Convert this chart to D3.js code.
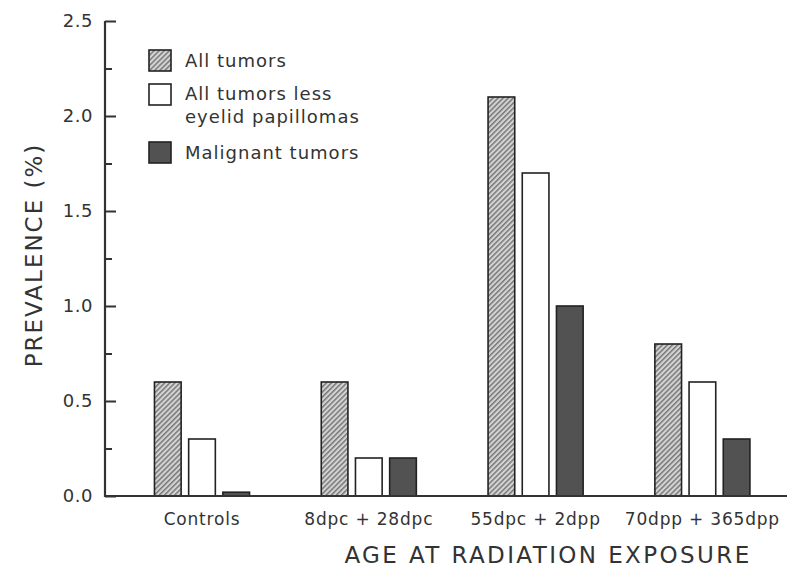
<!DOCTYPE html>
<html><head><meta charset="utf-8">
<script src="https://cdn.jsdelivr.net/npm/d3@7"></script>
<style>body{margin:0;background:#fff}svg{display:block}text{font-family:"DejaVu Sans",sans-serif;fill:#333}</style>
</head><body><svg id="c" width="805" height="567"></svg>
<script>
const categories = ["Controls", "8dpc + 28dpc", "55dpc + 2dpp", "70dpp + 365dpp"];
const seriesNames = ["All tumors", "All tumors less eyelid papillomas", "Malignant tumors"];
const allTumors = [0.6, 0.6, 2.1, 0.8];
const lessPapillomas = [0.3, 0.2, 1.7, 0.6];
const malignant = [0.02, 0.2, 1.0, 0.3];
const yTicks = [0.0, 0.5, 1.0, 1.5, 2.0, 2.5];
const yMinorTicks = [0.25, 0.75, 1.25, 1.75, 2.25];

const svg = d3.select("#c");
const defs = svg.append("defs");
const pat = defs.append("pattern").attr("id","hatch").attr("patternUnits","userSpaceOnUse")
  .attr("width",3.6).attr("height",3.6).attr("patternTransform","rotate(45)");
pat.append("rect").attr("width",3.6).attr("height",3.6).attr("fill","#d4d4d4");
pat.append("rect").attr("width",1.5).attr("height",3.6).attr("fill","#777");

const fills = ["url(#hatch)", "#ffffff", "#525252"];
const series = [allTumors, lessPapillomas, malignant];

const y = d3.scaleLinear().domain([0, 2.5]).range([496, 21]);
const x0 = d3.scaleBand().domain(categories).range([118.6, 785.8]).paddingInner(0.43).paddingOuter(0.215);
const x1 = d3.scaleBand().domain(seriesNames).range([0, x0.bandwidth()]).paddingInner(0.22);

// bars
categories.forEach((c, ci) => {
  const g = svg.append("g").attr("transform", `translate(${x0(c)},0)`);
  seriesNames.forEach((s, si) => {
    const v = series[si][ci];
    g.append("rect").attr("x", x1(s)).attr("width", x1.bandwidth())
      .attr("y", y(v)).attr("height", y(0) - y(v))
      .attr("fill", fills[si]).attr("stroke", "#222").attr("stroke-width", 1.6);
  });
});

// y axis
const yAxis = svg.append("g").attr("transform","translate(105,0)")
  .call(d3.axisRight(y).tickValues(yTicks).tickSize(11).tickFormat(""));
yAxis.select(".domain").remove();
yAxis.selectAll("line").attr("stroke","#333").attr("stroke-width",2);
const yMinor = svg.append("g").attr("transform","translate(105,0)")
  .call(d3.axisRight(y).tickValues(yMinorTicks).tickSize(7).tickFormat(""));
yMinor.select(".domain").remove();
yMinor.selectAll("line").attr("stroke","#333").attr("stroke-width",2);
svg.append("line").attr("x1",105).attr("x2",105).attr("y1",y(2.5)).attr("y2",y(0)+1)
  .attr("stroke","#333").attr("stroke-width",2.2);
svg.selectAll(".ylab").data(yTicks).enter().append("text")
  .attr("x", 93).attr("y", d => y(d)).attr("dy","0.35em").attr("text-anchor","end")
  .attr("font-size", 18).attr("letter-spacing", 0.5).text(d => d.toFixed(1));

// x axis
svg.append("line").attr("x1",104).attr("x2",787).attr("y1",y(0)).attr("y2",y(0))
  .attr("stroke","#333").attr("stroke-width",2.2);
const xAxis = svg.append("g").attr("transform",`translate(0,${y(0)})`)
  .call(d3.axisBottom(x0).tickSize(0).tickPadding(17));
xAxis.select(".domain").remove();
xAxis.selectAll("text").attr("font-size",17).attr("letter-spacing",0.8)
  .style("font-family","DejaVu Sans").attr("fill","#333");

// axis titles
svg.append("text").attr("transform","translate(42,255) rotate(-90)").attr("text-anchor","middle")
  .attr("font-size",23).attr("letter-spacing",2).text("PREVALENCE (%)");
svg.append("text").attr("x",548).attr("y",563).attr("text-anchor","middle")
  .attr("font-size",23).attr("letter-spacing",2.4).text("AGE AT RADIATION EXPOSURE");

// legend
const legendRows = [
  {sw: 50, lines: ["All tumors"], ty: [61]},
  {sw: 84, lines: ["All tumors less", "eyelid papillomas"], ty: [94, 117]},
  {sw: 142, lines: ["Malignant tumors"], ty: [153]}
];
legendRows.forEach((r, i) => {
  svg.append("rect").attr("x",149).attr("y",r.sw).attr("width",22).attr("height",21)
    .attr("fill",fills[i]).attr("stroke","#222").attr("stroke-width",1.6);
  r.lines.forEach((t, j) => {
    svg.append("text").attr("x",185).attr("y",r.ty[j]).attr("dy","0.35em")
      .attr("font-size",18).attr("letter-spacing",1).text(t);
  });
});
</script></body></html>
